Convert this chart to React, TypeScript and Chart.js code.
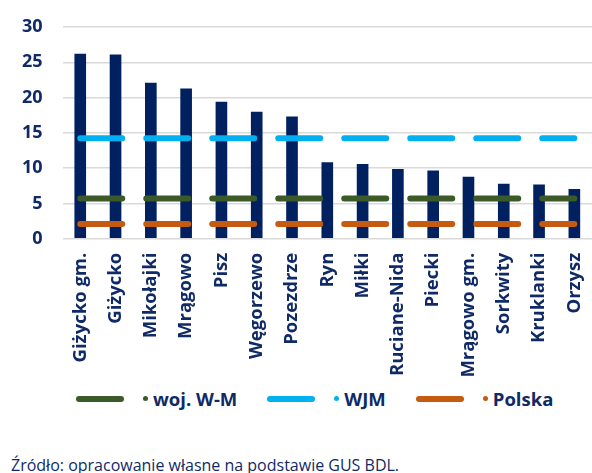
import React, { useEffect, useRef } from "react";
import { Chart, registerables } from "chart.js";

Chart.register(...registerables);

const categories = [
  "Giżycko gm.", "Giżycko", "Mikołajki", "Mrągowo", "Pisz", "Węgorzewo", "Pozezdrze",
  "Ryn", "Miłki", "Ruciane-Nida", "Piecki", "Mrągowo gm.", "Sorkwity", "Kruklanki", "Orzysz",
];
const gminaValues = [26.2, 26.1, 22.1, 21.3, 19.4, 18.0, 17.3, 10.85, 10.6, 9.86, 9.67, 8.77, 7.78, 7.69, 7.03];
const wojWM = [5.7, 5.7, 5.7, 5.7, 5.7, 5.7, 5.7, 5.7, 5.7, 5.7, 5.7, 5.7, 5.7, 5.7, 5.7];
const wjm = [14.25, 14.25, 14.25, 14.25, 14.25, 14.25, 14.25, 14.25, 14.25, 14.25, 14.25, 14.25, 14.25, 14.25, 14.25];
const polska = [2.08, 2.08, 2.08, 2.08, 2.08, 2.08, 2.08, 2.08, 2.08, 2.08, 2.08, 2.08, 2.08, 2.08, 2.08];
const yTicks = [0, 5, 10, 15, 20, 25, 30];

const NAVY = "#002060";
const TEXT = "#0F2A66";
const GREEN = "#3B5A27";
const BLUE = "#00B0F0";
const ORANGE = "#C55A11";

const legendItems = [
  { label: "woj. W-M", color: GREEN },
  { label: "WJM", color: BLUE },
  { label: "Polska", color: ORANGE },
];

export default function App() {
  const canvasRef = useRef<HTMLCanvasElement | null>(null);

  useEffect(() => {
    if (!canvasRef.current) return;
    const lineDs = (label: string, data: number[], color: string) => ({
      type: "line" as const,
      label,
      data,
      borderColor: color,
      backgroundColor: color,
      borderWidth: 6,
      borderDash: [42, 24],
      borderCapStyle: "round" as const,
      pointRadius: 0,
      fill: false,
      order: 1,
    });
    const chart = new Chart(canvasRef.current, {
      type: "bar",
      data: {
        labels: categories,
        datasets: [
          {
            type: "bar",
            label: "gminy",
            data: gminaValues,
            backgroundColor: NAVY,
            barPercentage: 0.33,
            categoryPercentage: 1,
            order: 2,
          },
          lineDs("woj. W-M", wojWM, GREEN),
          lineDs("WJM", wjm, BLUE),
          lineDs("Polska", polska, ORANGE),
        ] as any,
      },
      options: {
        animation: false,
        responsive: false,
        maintainAspectRatio: false,
        layout: { padding: { top: 27, left: 0, right: 0, bottom: 0 } },
        plugins: { legend: { display: false }, tooltip: { enabled: false } },
        scales: {
          x: {
            grid: { display: false, drawTicks: false },
            border: { display: false },
            ticks: {
              autoSkip: false,
              maxRotation: 90,
              minRotation: 90,
              padding: 14,
              color: TEXT,
              font: { family: "'Open Sans'", size: 18.5, weight: "bold" },
            },
            afterFit: (s: any) => {
              s.height = 141.3;
              s.paddingLeft = 0;
              s.paddingRight = 0;
            },
          },
          y: {
            min: 0,
            max: 30,
            afterBuildTicks: (s: any) => {
              s.ticks = yTicks.map((v) => ({ value: v }));
            },
            grid: { color: "#D9D9D9", lineWidth: 1.5, drawTicks: false },
            border: { display: false },
            ticks: {
              padding: 20,
              color: TEXT,
              font: { family: "'Open Sans'", size: 18, weight: "bold" },
            },
            afterFit: (s: any) => {
              s.width = 62.6;
              s.paddingTop = 0;
              s.paddingBottom = 0;
            },
          },
        },
      } as any,
    });
    return () => chart.destroy();
  }, []);

  return (
    <div
      style={{
        position: "absolute",
        left: 0,
        top: 0,
        width: 592,
        height: 473,
        background: "#fff",
        overflow: "hidden",
      }}
    >
      <canvas
        ref={canvasRef}
        width={592}
        height={380}
        style={{ position: "absolute", left: 0, top: 0, width: 592, height: 380 }}
      />
      <div
        style={{
          position: "absolute",
          left: 76,
          top: 386,
          height: 25,
          display: "flex",
          alignItems: "center",
          fontFamily: "'Open Sans'",
          fontWeight: "bold",
          fontSize: 18.5,
          color: TEXT,
          whiteSpace: "nowrap",
        }}
      >
        {legendItems.map((it, i) => (
          <div key={it.label} style={{ display: "flex", alignItems: "center", marginLeft: i === 0 ? 0 : 30 }}>
            <div style={{ width: 48, height: 6, borderRadius: 3, background: it.color }} />
            <div style={{ width: 5, height: 5, borderRadius: 3, background: it.color, marginLeft: 19 }} />
            <span style={{ marginLeft: 5 }}>{it.label}</span>
          </div>
        ))}
      </div>
      <div
        style={{
          position: "absolute",
          left: 11,
          top: 453.5,
          fontFamily: "'Open Sans'",
          fontSize: 16,
          color: TEXT,
          whiteSpace: "nowrap",
        }}
      >
        Źródło: opracowanie własne na podstawie GUS BDL.
      </div>
    </div>
  );
}
